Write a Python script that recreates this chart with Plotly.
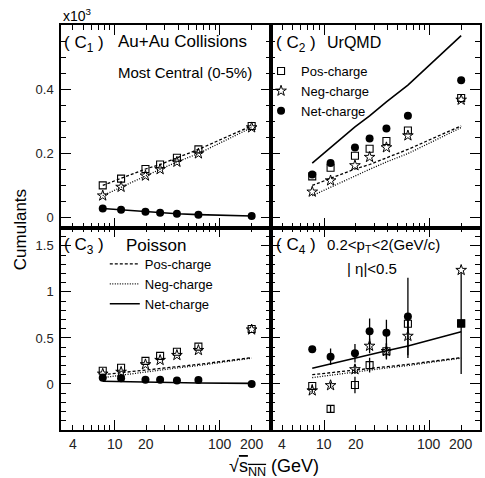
import math
import plotly.graph_objects as go
from plotly.subplots import make_subplots

energy = [7.7, 11.5, 19.6, 27, 39, 62.4, 200]

# C1 (measured means, x10^3)
c1_pos = [0.101, 0.122, 0.152, 0.166, 0.187, 0.213, 0.286]
c1_neg = [0.069, 0.096, 0.131, 0.151, 0.174, 0.200, 0.281]
c1_net = [0.029, 0.025, 0.019, 0.016, 0.013, 0.010, 0.006]

# Poisson baseline for net-charge C2 / C4 (sum of means)
poisson_sum = [0.170, 0.218, 0.283, 0.317, 0.361, 0.413, 0.567]

# C2
c2_pos = [0.129, 0.156, 0.193, 0.215, 0.239, 0.272, 0.373]
c2_neg = [0.081, 0.116, 0.163, 0.189, 0.219, 0.256, 0.367]
c2_net = [0.135, 0.171, 0.219, 0.247, 0.278, 0.318, 0.428]

# C3
c3_pos = [0.144, 0.176, 0.251, 0.305, 0.350, 0.406, 0.597]
c3_neg = [0.110, 0.130, 0.212, 0.259, 0.313, 0.367, 0.590]
c3_net = [0.068, 0.061, 0.046, 0.046, 0.039, 0.043, 0.000]

# C4 with errors
c4_pos = [-0.022, -0.270, -0.011, 0.205, 0.356, 0.655, 0.658]
c4_pos_err = [0.02, 0.04, 0.09, 0.08, 0.09, 0.10, 0.0]
c4_neg = [-0.072, -0.015, 0.158, 0.413, 0.356, 0.521, 1.237]
c4_neg_err = [0.02, 0.03, 0.05, 0.08, 0.08, 0.24, 0.0]
c4_net = [0.378, 0.295, 0.334, 0.572, 0.557, 0.733, 0.658]
c4_net_err = [0.03, 0.09, 0.10, 0.14, 0.14, 0.42, 0.55]

x_labels = [4, 10, 20, 100, 200]
x_minor = [3, 4, 5, 6, 7, 8, 9, 20, 30, 40, 50, 60, 70, 80, 90, 200, 300]

FONT = "Liberation Sans, Arial, Helvetica, sans-serif"

fig = make_subplots(rows=2, cols=2, horizontal_spacing=0, vertical_spacing=0)

dash_pos = "3px,2px"
dash_neg = "1px,1.5px"


def add_lines(row, col, pos, neg, net, legend=None):
    show = legend is not None
    fig.add_trace(go.Scatter(x=energy, y=pos, mode="lines", name="Pos-charge",
                             line=dict(color="black", width=1.3, dash=dash_pos),
                             showlegend=show, legend=legend or "legend"), row=row, col=col)
    fig.add_trace(go.Scatter(x=energy, y=neg, mode="lines", name="Neg-charge",
                             line=dict(color="black", width=1.3, dash=dash_neg),
                             showlegend=show, legend=legend or "legend"), row=row, col=col)
    fig.add_trace(go.Scatter(x=energy, y=net, mode="lines", name="Net-charge",
                             line=dict(color="black", width=1.6),
                             showlegend=show, legend=legend or "legend"), row=row, col=col)


def add_markers(row, col, pos, neg, net, legend=None, errs=None, net_symbols="circle"):
    show = legend is not None
    e = errs or [None, None, None]

    def ebar(v):
        if v is None:
            return None
        return dict(type="data", array=v, visible=True, color="black", thickness=1.3, width=0)

    fig.add_trace(go.Scatter(x=energy, y=net, mode="markers", name="Net-charge",
                             marker=dict(symbol=net_symbols, size=8, color="black"),
                             error_y=ebar(e[2]),
                             showlegend=show, legend=legend or "legend"), row=row, col=col)
    fig.add_trace(go.Scatter(x=energy, y=pos, mode="markers", name="Pos-charge",
                             marker=dict(symbol="square-open", size=7, color="black",
                                         line=dict(width=1.1, color="black")),
                             error_y=ebar(e[0]),
                             showlegend=show, legend=legend or "legend"), row=row, col=col)
    fig.add_trace(go.Scatter(x=energy, y=neg, mode="markers", name="Neg-charge",
                             marker=dict(symbol="star-open", size=8, color="black",
                                         line=dict(width=1.0, color="black")),
                             error_y=ebar(e[1]),
                             showlegend=show, legend=legend or "legend"), row=row, col=col)


# C1
add_lines(1, 1, c1_pos, c1_neg, c1_net)
add_markers(1, 1, c1_pos, c1_neg, c1_net)
# C2
add_lines(1, 2, c1_pos, c1_neg, poisson_sum)
add_markers(1, 2, c2_pos, c2_neg, c2_net, legend="legend")
# C3
add_lines(2, 1, c1_pos, c1_neg, c1_net, legend="legend2")
add_markers(2, 1, c3_pos, c3_neg, c3_net)
# C4
add_lines(2, 2, c1_pos, c1_neg, poisson_sum)
add_markers(2, 2, c4_pos, c4_neg, c4_net, errs=[c4_pos_err, c4_neg_err, c4_net_err],
            net_symbols=["circle"] * 6 + ["square"])

# legend order: pos, neg, net
for tr in fig.data:
    if tr.showlegend:
        tr.legendrank = {"Pos-charge": 1, "Neg-charge": 2, "Net-charge": 3}[tr.name]

axis_common = dict(showline=True, linecolor="black", linewidth=1.5, mirror="allticks",
                   ticks="inside", tickcolor="black", tickwidth=1, ticklen=10,
                   showgrid=False, zeroline=False)

fig.update_xaxes(type="log", range=[0.49, 2.48], tickvals=[10, 100], showticklabels=False,
                 minor=dict(ticks="inside", ticklen=5, tickvals=x_minor, tickcolor="black",
                            showgrid=False),
                 **axis_common)
fig.update_yaxes(**axis_common)
fig.update_yaxes(range=[-0.03, 0.6], tickvals=[0, 0.2, 0.4], ticktext=["0", "0.2", "0.4"],
                 minor=dict(ticks="inside", ticklen=5, dtick=0.05, tick0=0, tickcolor="black"),
                 row=1)
fig.update_yaxes(range=[-0.5, 1.7], tickvals=[0, 0.5, 1, 1.5], ticktext=["0", "0.5", "1", "1.5"],
                 minor=dict(ticks="inside", ticklen=5, dtick=0.1, tick0=0, tickcolor="black"),
                 row=2)
fig.update_yaxes(showticklabels=False, col=2)
fig.update_yaxes(tickfont=dict(size=13, color="#222"), ticklabelstandoff=3, col=1)

# plot area in pixels: x 61..482, y 25..430
L, R, T, B = 61, 482, 25, 430


def px(x):
    return (x - L) / (R - L)


def py(y):
    return (B - y) / (B - T)


def label(text, x, y, size, xanchor="left", **kw):
    fig.add_annotation(text=text, x=px(x), y=py(y), xref="paper", yref="paper",
                       xanchor=xanchor, yanchor="middle", showarrow=False,
                       font=dict(size=size, color="black", family=FONT), **kw)


label("x10<sup>3</sup>", 61, 15, 14)
label("( C<sub>1</sub> )", 62, 44, 17)
label("Au+Au Collisions", 116, 42, 17)
label("Most Central (0-5%)", 116, 72, 15)
label("( C<sub>2</sub> )", 275, 44, 17)
label("UrQMD", 326, 43, 16)
label("( C<sub>3</sub> )", 62, 246, 17)
label("Poisson", 124, 245, 17)
label("( C<sub>4</sub> )", 275, 246, 17)
label("0.2&lt;p<sub>T</sub>&lt;2(GeV/c)", 326, 245, 15)
label("| η|&lt;0.5", 346, 268, 15)
label("Cumulants", 20, 230, 17, xanchor="center", textangle=-90)
label("√<span style='text-decoration:overline'>s<sub>NN</sub></span> (GeV)", 275, 467, 18,
      xanchor="center")

for xr in ["x3", "x4"]:
    for v in x_labels:
        fig.add_annotation(text=str(v), x=math.log10(v), xref=xr, y=0, yref="paper",
                           xanchor="center", yanchor="top", yshift=-4, showarrow=False,
                           font=dict(size=14, color="#222", family=FONT))

legend_style = dict(xanchor="left", yanchor="top", bgcolor="rgba(0,0,0,0)",
                    font=dict(size=13, color="black", family=FONT), itemwidth=30,
                    tracegroupgap=0)
fig.update_layout(
    width=485, height=478,
    margin=dict(l=L, r=485 - R, t=T, b=478 - B),
    plot_bgcolor="white", paper_bgcolor="white",
    font=dict(family=FONT, color="black"),
    legend=dict(x=px(262), y=py(56), **legend_style),
    legend2=dict(x=px(105), y=py(249), **legend_style),
)

fig.write_html("out.html", config={"displayModeBar": False},
               post_script="document.body.style.margin='0';")
